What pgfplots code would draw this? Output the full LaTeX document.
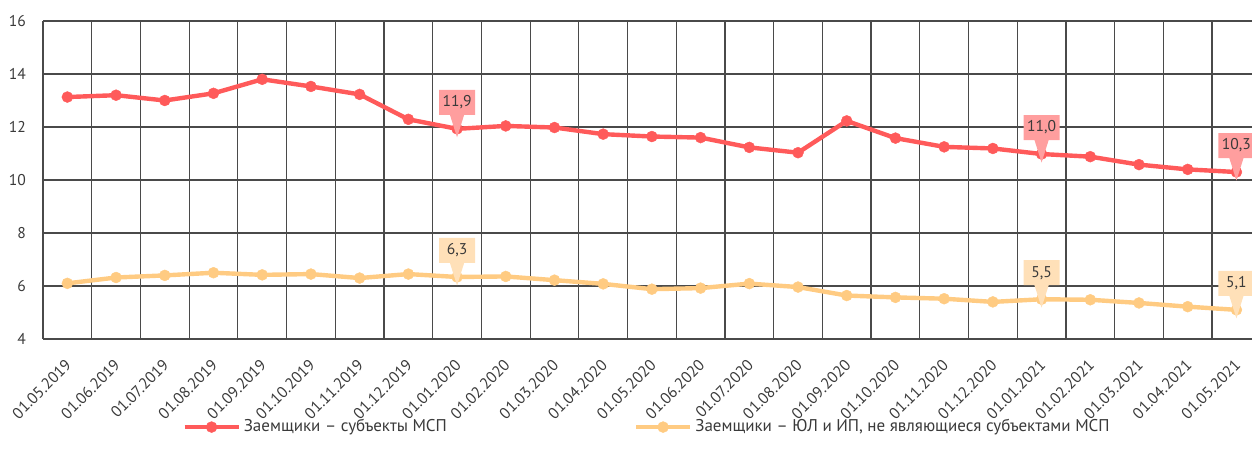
\documentclass[border=0pt]{standalone}
\usepackage{fontspec}
\setmainfont{PT Sans}
\usepackage{pgfplots}
\pgfplotsset{compat=1.18}
\usetikzlibrary{shapes.callouts}
\definecolor{cred}{HTML}{FF5A5A}
\definecolor{corange}{HTML}{FFCB82}
\definecolor{lred}{HTML}{FF9E9E}
\definecolor{lorange}{HTML}{FFE0B8}
\definecolor{gridc}{HTML}{4A4A4A}
\definecolor{txt}{HTML}{3A3A3A}
\begin{document}
\begin{tikzpicture}
\begin{axis}[
  at={(21.5pt,63pt)}, anchor=south west,
  scale only axis, width=604.5pt, height=159pt,
  xmin=-0.5, xmax=24.32, ymin=4, ymax=16,
  ytick={4,6,...,16},
  xtick={0,...,24},
  xticklabels={01.05.2019,01.06.2019,01.07.2019,01.08.2019,01.09.2019,01.10.2019,01.11.2019,01.12.2019,01.01.2020,01.02.2020,01.03.2020,01.04.2020,01.05.2020,01.06.2020,01.07.2020,01.08.2020,01.09.2020,01.10.2020,01.11.2020,01.12.2020,01.01.2021,01.02.2021,01.03.2021,01.04.2021,01.05.2021},
  minor xtick={-0.5,0.5,...,23.5},
  xminorgrids, ymajorgrids, xmajorgrids=false,
  minor grid style={gridc, line width=0.6pt},
  major grid style={gridc, line width=0.6pt},
  axis line style={draw=none},
  major tick length=0pt, minor tick length=0pt,
  yticklabel style={font=\fontsize{7.8}{9}\selectfont, text=txt, xshift=-5pt},
  /pgf/number format/assume math mode=true,
  xticklabel style={font=\fontsize{7.9}{9}\selectfont, text=txt, inner sep=0pt, xshift=-1.5pt, yshift=-9.5pt, rotate=45, anchor=north east},
  clip=false,
  legend columns=2,
  legend style={at={(0.5,-0.277)}, anchor=center, draw=none, fill=none,
    font=\fontsize{8.5}{10}\selectfont, text=txt, nodes={inner xsep=1.5pt},
    /tikz/every even column/.append style={column sep=92pt}},
  legend image code/.code={\draw[#1, mark repeat=2, mark phase=2] plot coordinates {(0pt,0pt) (13.5pt,0pt) (27pt,0pt)};},
]
\addplot[cred, line width=2.2pt, mark=*, mark size=2.75pt, mark options={solid, fill=cred, draw=cred, line width=0.2pt}]
coordinates {(0,13.13)(1,13.2)(2,13.0)(3,13.27)(4,13.8)(5,13.53)(6,13.23)(7,12.29)(8,11.93)(9,12.04)(10,11.98)(11,11.73)(12,11.64)(13,11.6)(14,11.23)(15,11.03)(16,12.23)(17,11.58)(18,11.25)(19,11.19)(20,10.98)(21,10.88)(22,10.58)(23,10.4)(24,10.3)};
\addlegendentry{Заемщики – субъекты МСП}
\addplot[corange, line width=2.2pt, mark=*, mark size=2.75pt, mark options={solid, fill=corange, draw=corange, line width=0.2pt}]
coordinates {(0,6.1)(1,6.32)(2,6.4)(3,6.5)(4,6.42)(5,6.45)(6,6.3)(7,6.45)(8,6.34)(9,6.36)(10,6.22)(11,6.08)(12,5.88)(13,5.92)(14,6.09)(15,5.96)(16,5.64)(17,5.57)(18,5.52)(19,5.4)(20,5.5)(21,5.48)(22,5.36)(23,5.22)(24,5.1)};
\addlegendentry{Заемщики – ЮЛ и ИП, не являющиеся субъектами МСП}
\addplot[draw=none, forget plot, nodes near coords, point meta=explicit symbolic,
  nodes near coords style={rectangle callout, fill=lred, text=txt, font=\fontsize{7.8}{9}\selectfont,
    anchor=center, yshift=13.25pt, minimum width=18pt, minimum height=12.5pt, inner sep=1pt,
    callout relative pointer={(0pt,-11.25pt)}}]
table[meta=lab] {
x y lab
8 11.93 11,9
20 10.98 11,0
24 10.3 10,3
};
\addplot[draw=none, forget plot, nodes near coords, point meta=explicit symbolic,
  nodes near coords style={rectangle callout, fill=lorange, text=txt, font=\fontsize{7.8}{9}\selectfont,
    anchor=center, yshift=13.25pt, minimum width=18pt, minimum height=12.5pt, inner sep=1pt,
    callout relative pointer={(0pt,-11.25pt)}}]
table[meta=lab] {
x y lab
8 6.34 6,3
20 5.5 5,5
24 5.1 5,1
};
\end{axis}
\pgfresetboundingbox
\path (0,0) rectangle (626pt,232.5pt);
\end{tikzpicture}
\end{document}
